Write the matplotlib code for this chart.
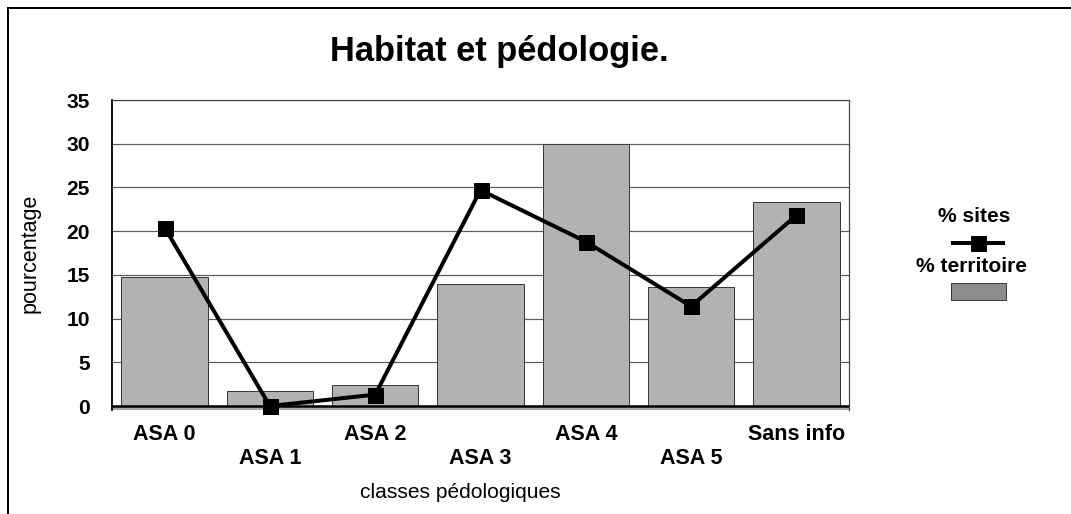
"""
Bar + line chart: share of territory and of sites per soil class.
"""

import matplotlib

matplotlib.use("Agg")
import matplotlib.pyplot as plt
import numpy as np
from matplotlib.lines import Line2D
from matplotlib.patches import Rectangle

categories = ["ASA 0", "ASA 1", "ASA 2", "ASA 3", "ASA 4", "ASA 5", "Sans info"]
pct_territoire = [14.7, 1.7, 2.4, 14.0, 30.0, 13.6, 23.3]
pct_sites = [20.4, 0.0, 1.3, 24.7, 18.8, 11.4, 21.8]
y_ticks = [0, 5, 10, 15, 20, 25, 30, 35]

W, H, DPI = 1071, 514, 72
plt.rcParams["font.family"] = ["Liberation Sans", "DejaVu Sans"]
plt.rcParams["hatch.linewidth"] = 0.7
plt.rcParams["hatch.color"] = "#c4c4c4"

bar_face = "#f4f4f4"
bar_edge = "#3a3a3a"
grid_col = "#5c5c5c"


def px(x, y):
    # pixel position -> figure fraction
    return x / W, 1 - y / H


def main():
    fig = plt.figure(figsize=(W / DPI, H / DPI), dpi=DPI)
    # axes box in pixels: x 112..849, y 100..409.5
    ax = fig.add_axes([112 / W, 1 - 409.5 / H, (849 - 112) / W, (409.5 - 100) / H])

    x = np.arange(len(categories))
    ax.bar(x, pct_territoire, width=0.82, color=bar_face, edgecolor=bar_edge,
           linewidth=1.0, hatch="------", zorder=2)
    ax.plot(x, pct_sites, color="black", lw=4, marker="s", markersize=15, zorder=4, clip_on=False)

    ax.set_xlim(-0.5, len(categories) - 0.5)
    ax.set_ylim(-0.4, 35)

    # floor under the zero line
    ax.axhspan(-0.4, 0, color="#a8a8a8", zorder=1, lw=0)
    ax.axhline(0, color="black", lw=2.5, zorder=3)

    ax.set_yticks(y_ticks)
    ax.set_yticklabels([str(v) for v in y_ticks], fontsize=21, fontweight="bold")
    ax.set_xticks(x)
    # staggered labels, odd ones one line down
    ax.set_xticklabels([c if i % 2 == 0 else "\n" + c for i, c in enumerate(categories)],
                       fontsize=21.5, fontweight="bold", linespacing=1.25)
    ax.tick_params(axis="y", length=0, pad=22)
    ax.tick_params(axis="x", length=0, pad=14)

    ax.set_axisbelow(True)
    ax.yaxis.grid(True, color=grid_col, lw=1.2)
    for g in ax.get_ygridlines():
        g.set_zorder(0.5)
    ax.spines["bottom"].set_visible(False)
    ax.spines["left"].set_color("black")
    ax.spines["left"].set_linewidth(1.8)
    for s in ("top", "right"):
        ax.spines[s].set_color("#444444")
        ax.spines[s].set_linewidth(1.2)

    # titles and axis labels
    fig.text(*px(499, 52), "Habitat et pédologie.", fontsize=34.5, fontweight="bold",
             ha="center", va="center")
    fig.text(*px(30, 253), "pourcentage", fontsize=21.5, rotation=90, ha="center", va="center")
    fig.text(*px(460, 493), "classes pédologiques", fontsize=21, ha="center", va="center")

    # legend, drawn by hand (text above its key)
    fig.text(*px(974, 217), "% sites", fontsize=21, fontweight="bold", ha="center", va="center")
    x0, y0 = px(953, 243)
    x1, _ = px(1003, 243)
    fig.add_artist(Line2D([x0, x1], [y0, y0], color="black", lw=4))
    fig.add_artist(Line2D([(x0 + x1) / 2], [y0], color="black", marker="s", markersize=15))
    fig.text(*px(971, 266), "% territoire", fontsize=21, fontweight="bold", ha="center", va="center")
    rx, ry = px(951, 300)
    fig.add_artist(Rectangle((rx, ry), 55 / W, 17 / H, transform=fig.transFigure,
                             facecolor="#8c8c8c", edgecolor="#3a3a3a", lw=1.0))

    # outer frame: only top and left edges are visible
    fx, fy = px(8, 8)
    fig.add_artist(Line2D([fx, fx], [0, fy], color="black", lw=2))
    fig.add_artist(Line2D([fx, 1], [fy, fy], color="black", lw=2))

    fig.savefig("out.png", dpi=DPI)


if __name__ == "__main__":
    main()
